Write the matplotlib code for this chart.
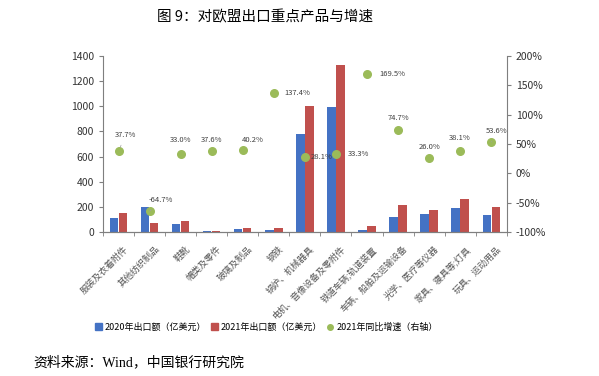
import matplotlib.pyplot as plt
import matplotlib.transforms as mtransforms
from matplotlib.lines import Line2D
from matplotlib.patches import Patch
import numpy as np

plt.rcParams['font.family'] = ['Noto Sans CJK SC', 'DejaVu Sans']

categories = ['服装及衣着附件', '其他纺织制品', '鞋靴', '帽类及零件', '玻璃及制品', '钢铁',
              '锅炉、机械器具', '电机、音像设备及零附件', '铁道车辆;轨道装置',
              '车辆、船舶及运输设备', '光学、医疗等仪器', '家具、寝具等;灯具', '玩具、运动用品']
exp_2020 = [110, 200, 62, 8, 20, 12, 778, 997, 18, 122, 143, 188, 135]
exp_2021 = [155, 70, 85, 11, 28, 30, 1000, 1328, 48, 215, 178, 260, 201]
growth = [37.7, -64.7, 33.0, 37.6, 40.2, 137.4, 28.1, 33.3, 169.5, 74.7, 26.0, 38.1, 53.6]
# label offsets in points (dx, dy) relative to each dot
offsets = [(5, 12), (8, 8), (0, 10), (0, 8), (7, 7), (17, 0), (12, 0), (16, 0),
           (18, 0), (0, 8), (0, 8), (0, 9), (4, 8)]
leader = [True, True, False, False, False, False, False, False,
          False, False, False, False, True]

blue = '#4472C4'
red = '#C0504D'
green = '#9BBB59'
grey = '#7f7f7f'

fig = plt.figure(figsize=(5.99, 3.76), dpi=100)
ax = fig.add_axes([0.172, 0.383, 0.674, 0.468])
ax2 = ax.twinx()

x = np.arange(len(categories))
w = 0.27
ax.bar(x - 0.145, exp_2020, w, color=blue)
ax.bar(x + 0.145, exp_2021, w, color=red)
ax2.scatter(x, growth, s=30, color=green, zorder=3)

for i in range(len(x)):
    dx, dy = offsets[i]
    arrow = dict(arrowstyle='-', color='#a0a0a0', lw=0.5, shrinkA=3, shrinkB=3) if leader[i] else None
    ax2.annotate('%.1f%%' % growth[i], (x[i], growth[i]), xytext=(dx, dy),
                 textcoords='offset points', ha='center', va='center',
                 fontsize=5.5, color='#404040', arrowprops=arrow)

ax.set_xlim(-0.5, len(x) - 0.5)
ax.set_ylim(0, 1400)
ax.set_yticks(range(0, 1401, 200))
ax2.set_ylim(-100, 200)
ax2.set_yticks(range(-100, 201, 50))
ax2.set_yticklabels(['%d%%' % v for v in range(-100, 201, 50)])

ax.set_xticks(x)
ax.set_xticklabels(categories, rotation=45, ha='right', rotation_mode='anchor',
                   fontsize=6.5, color='#555555')
ax.tick_params(axis='x', length=0, pad=9)
shift = mtransforms.ScaledTranslation(5 / 100, 0, fig.dpi_scale_trans)
for lab in ax.get_xticklabels():
    lab.set_transform(lab.get_transform() + shift)
ax.set_xticks(np.arange(-0.5, len(x), 1), minor=True)
ax.tick_params(axis='x', which='minor', length=3, color=grey)

for a in (ax, ax2):
    a.spines['top'].set_visible(False)
    for s in ('left', 'right', 'bottom'):
        a.spines[s].set_color(grey)
    a.tick_params(axis='y', labelsize=7.5, length=3, color=grey, labelcolor='#333333')
ax2.spines['left'].set_visible(False)
ax.spines['right'].set_visible(False)

fig.text(0.443, 0.955, '图 9：对欧盟出口重点产品与增速', ha='center', va='center', fontsize=10.5)

handles = [Patch(color=blue), Patch(color=red),
           Line2D([], [], marker='o', ls='', color=green, markersize=4)]
labels = ['2020年出口额（亿美元）', '2021年出口额（亿美元）', '2021年同比增速（右轴）']
fig.legend(handles, labels, loc='center', bbox_to_anchor=(0.445, 0.13), ncol=3,
           frameon=False, fontsize=6.5, handlelength=0.7, handleheight=0.7,
           handletextpad=0.3, columnspacing=0.6)

fig.text(0.055, 0.037, '资料来源：Wind，中国银行研究院', ha='left', va='center', fontsize=10,
         family=['Liberation Serif', 'Noto Sans CJK SC'])

fig.savefig('out.png', dpi=100)
